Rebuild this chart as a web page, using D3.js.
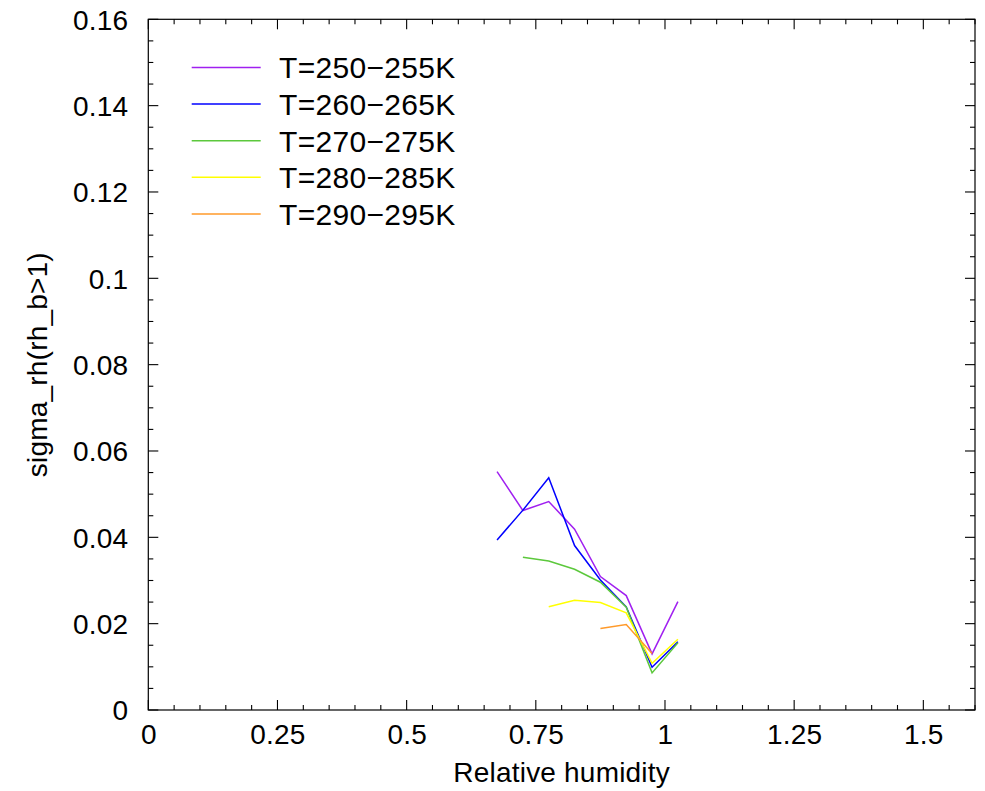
<!DOCTYPE html>
<html>
<head>
<meta charset="utf-8">
<script src="https://cdn.jsdelivr.net/npm/d3@7"></script>
<style>
  html, body { margin: 0; padding: 0; background: #fff; }
  svg { display: block; font-family: "Liberation Sans", Arial, Helvetica, sans-serif; }
</style>
</head>
<body>
<div id="chart"></div>
<script>
// ---- Data ----
const rhValues = [0.675, 0.725, 0.775, 0.825, 0.875, 0.925, 0.975, 1.025];
const seriesNames = ["T=250\u2212255K", "T=260\u2212265K", "T=270\u2212275K", "T=280\u2212285K", "T=290\u2212295K"];
const seriesColors = ["#a020f0", "#0000ff", "#5cc83c", "#ffff00", "#ff9a2a"];
const sigma250 = [0.0552, 0.0462, 0.0483, 0.0419, 0.0309, 0.0265, 0.0130, 0.0251];
const sigma260 = [0.0394, 0.0463, 0.0538, 0.0381, 0.0301, 0.0239, 0.0099, 0.0158];
const sigma270 = [null, 0.0354, 0.0345, 0.0326, 0.0296, 0.0238, 0.0086, 0.0156];
const sigma280 = [null, null, 0.0239, 0.0254, 0.0249, 0.0225, 0.0108, 0.0164];
const sigma290 = [null, null, null, null, 0.0189, 0.0198, 0.0131, null];
const seriesValues = [sigma250, sigma260, sigma270, sigma280, sigma290];
const xTickValues = [0, 0.25, 0.5, 0.75, 1, 1.25, 1.5];
const xTickLabels = ["0", "0.25", "0.5", "0.75", "1", "1.25", "1.5"];
const yTickValues = [0, 0.02, 0.04, 0.06, 0.08, 0.1, 0.12, 0.14, 0.16];
const yTickLabels = ["0", "0.02", "0.04", "0.06", "0.08", "0.1", "0.12", "0.14", "0.16"];
const xLabel = "Relative humidity";
const yLabel = "sigma_rh(rh_b>1)";

(function () {
// ---- Layout ----
const W = 985, H = 791;
const pL = 148.3, pR = 975, pT = 19.3, pB = 710;

const svg = d3.select("#chart").append("svg").attr("width", W).attr("height", H);

const x = d3.scaleLinear().domain([0, 1.6]).range([pL, pR]);
const y = d3.scaleLinear().domain([0, 0.16]).range([pB, pT]);

const fontSize = 28;
const ls = "0.2px";

// Frame
svg.append("rect").attr("x", pL).attr("y", pT)
  .attr("width", pR - pL).attr("height", pB - pT)
  .attr("fill", "none").attr("stroke", "#000").attr("stroke-width", 1.2);

// Ticks (inward, on all four sides)
const xMinor = d3.range(0, 1.6001, 0.05);
const yMinor = d3.range(0, 0.16001, 0.005);
const isMajor = (v, step) => Math.abs(v / step - Math.round(v / step)) < 1e-6;
const tg = svg.append("g").attr("stroke", "#000").attr("stroke-width", 1.1);
xMinor.forEach(v => {
  const len = isMajor(v, 0.25) ? 10 : 5;
  const px = x(v);
  tg.append("line").attr("x1", px).attr("x2", px).attr("y1", pB).attr("y2", pB - len);
  tg.append("line").attr("x1", px).attr("x2", px).attr("y1", pT).attr("y2", pT + len);
});
yMinor.forEach(v => {
  const len = isMajor(v, 0.02) ? 10 : 5;
  const py = y(v);
  tg.append("line").attr("x1", pL).attr("x2", pL + len).attr("y1", py).attr("y2", py);
  tg.append("line").attr("x1", pR).attr("x2", pR - len).attr("y1", py).attr("y2", py);
});

// Tick labels
const xAxis = d3.axisBottom(x).tickValues(xTickValues)
  .tickFormat((d, i) => xTickLabels[i]).tickSize(0).tickPadding(0);
const gx = svg.append("g").attr("transform", `translate(0,${pB})`).call(xAxis);
gx.select(".domain").remove();
gx.selectAll("text").attr("font-size", fontSize).attr("font-family", "Liberation Sans, Arial, sans-serif")
  .attr("letter-spacing", ls).attr("fill", "#000").attr("dy", null).attr("y", 34);

const yAxis = d3.axisLeft(y).tickValues(yTickValues)
  .tickFormat((d, i) => yTickLabels[i]).tickSize(0).tickPadding(20);
const gy = svg.append("g").attr("transform", `translate(${pL},0)`).call(yAxis);
gy.select(".domain").remove();
gy.selectAll("text").attr("font-size", fontSize).attr("font-family", "Liberation Sans, Arial, sans-serif")
  .attr("letter-spacing", ls).attr("fill", "#000").attr("dy", "0.35em");

// Axis titles
svg.append("text").attr("x", (pL + pR) / 2).attr("y", 782)
  .attr("text-anchor", "middle").attr("font-size", fontSize).attr("letter-spacing", ls).text(xLabel);
svg.append("text").attr("transform", `translate(47,${(pT + pB) / 2}) rotate(-90)`)
  .attr("text-anchor", "middle").attr("font-size", fontSize).attr("letter-spacing", ls).text(yLabel);

// Series lines
const line = d3.line()
  .defined(d => d[1] !== null)
  .x(d => x(d[0])).y(d => y(d[1]));
seriesValues.forEach((vals, i) => {
  const pts = rhValues.map((r, j) => [r, vals[j]]);
  svg.append("path").datum(pts).attr("d", line)
    .attr("fill", "none").attr("stroke", seriesColors[i]).attr("stroke-width", 1.5)
    .attr("stroke-linejoin", "miter");
});

// Legend
const lg = svg.append("g");
seriesNames.forEach((name, i) => {
  const ly = 67.5 + i * 36.6;
  lg.append("line").attr("x1", 191.7).attr("x2", 260.7).attr("y1", ly).attr("y2", ly)
    .attr("stroke", seriesColors[i]).attr("stroke-width", 1.5);
  lg.append("text").attr("x", 279).attr("y", ly).attr("dy", "0.36em")
    .attr("font-size", 30).attr("letter-spacing", "0.3px").attr("fill", "#000").text(name);
});
})();
</script>
</body>
</html>
